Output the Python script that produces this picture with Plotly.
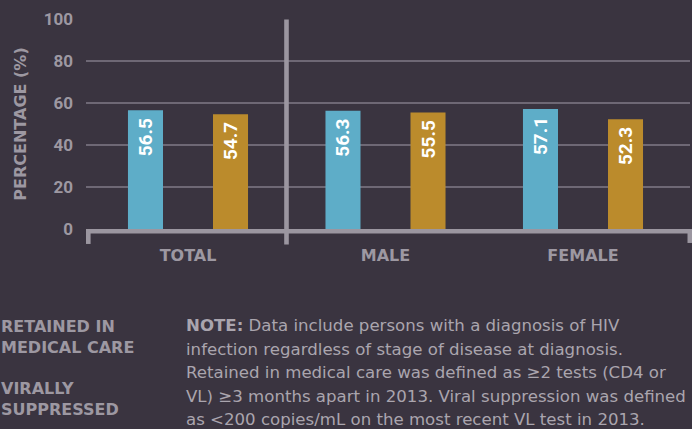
import plotly.graph_objects as go

categories = ["TOTAL", "MALE", "FEMALE"]
retained = [56.5, 56.3, 57.1]
suppressed = [54.7, 55.5, 52.3]
y_ticks = [0, 20, 40, 60, 80, 100]
legend_labels = ["RETAINED IN<br>MEDICAL CARE", "VIRALLY<br>SUPPRESSED"]
note_lines = [
    "<b>NOTE:</b> Data include persons with a diagnosis of HIV",
    "infection regardless of stage of disease at diagnosis.",
    "Retained in medical care was defined as \u22652 tests (CD4 or",
    "VL) \u22653 months apart in 2013. Viral suppression was defined",
    "as <200 copies/mL on the most recent VL test in 2013.",
]

W, H = 692, 429
BG = "#3a3440"
BLUE = "#5eadc8"
GOLD = "#bb8b2c"
GRID = "#6e6875"
AXIS = "#9b96a0"
LABEL = "#9d98a2"
NOTE = "#aaa5ae"
FONT = "Roboto"
BFONT = "DejaVu Sans"

L, R, T, B = 86, 2, 19, 199.5
PW, PH = W - L - R, H - T - B


def px(x):
    return (x - L) / PW


def py(y):
    return (H - B - y) / PH


xs = list(range(len(categories)))

fig = go.Figure()
for vals, name, col in [(retained, "Retained in medical care", BLUE),
                        (suppressed, "Virally suppressed", GOLD)]:
    fig.add_trace(go.Bar(
        x=xs, y=vals, name=name, marker_color=col, marker_line_width=0,
        texttemplate="%{y:.1f}\u00a0", textposition="inside", textangle=-90,
        insidetextanchor="end", constraintext="none",
        textfont=dict(family=FONT, size=19, color="white", weight="bold"),
    ))

shapes = []
shapes.append(dict(type="line", xref="paper", yref="paper",
                   x0=px(86), x1=px(692), y0=py(231.7), y1=py(231.7),
                   line=dict(color=AXIS, width=4.6)))
shapes.append(dict(type="line", xref="paper", yref="paper",
                   x0=px(88.3), x1=px(88.3), y0=py(229.5), y1=py(244.5),
                   line=dict(color=AXIS, width=4.6)))
shapes.append(dict(type="line", xref="paper", yref="paper",
                   x0=px(286.5), x1=px(286.5), y0=py(19.5), y1=py(245),
                   line=dict(color=AXIS, width=4.6)))
shapes.append(dict(type="line", xref="paper", yref="paper",
                   x0=px(689.8), x1=px(689.8), y0=py(229.5), y1=py(243.5),
                   line=dict(color=AXIS, width=4.6)))

annotations = []
leg_y = [337.5, 400.3]
for lab, yy in zip(legend_labels, leg_y):
    annotations.append(dict(
        text=lab, xref="paper", yref="paper", x=px(0), y=py(yy),
        xanchor="left", yanchor="middle", showarrow=False, align="left",
        borderpad=0,
        font=dict(family=BFONT, size=16, color=LABEL, weight="bold"),
    ))
note_y = [326, 349.8, 373.5, 397.3, 420.5]
for line, yy in zip(note_lines, note_y):
    annotations.append(dict(
        text=line, xref="paper", yref="paper", x=px(185), y=py(yy),
        xanchor="left", yanchor="middle", showarrow=False, align="left",
        borderpad=0,
        font=dict(family=BFONT, size=16.6, color=NOTE),
    ))

fig.update_layout(
    width=W, height=H,
    margin=dict(l=L, r=R, t=T, b=B, pad=0, autoexpand=False),
    paper_bgcolor=BG, plot_bgcolor=BG,
    barmode="group", bargap=0.139, bargroupgap=0.588,
    showlegend=False,
    shapes=shapes, annotations=annotations,
    xaxis=dict(
        range=[(86 - 188) / 197.5, (690 - 188) / 197.5],
        tickvals=xs, ticktext=categories, showgrid=False, zeroline=False,
        showline=False, ticks="", ticklabelstandoff=15, automargin=False,
        tickfont=dict(family=BFONT, size=16, color=LABEL, weight="bold"),
        fixedrange=True,
    ),
    yaxis=dict(
        range=[0, 100], tickvals=y_ticks, showgrid=True, gridcolor=GRID,
        gridwidth=1.6, zeroline=False, showline=False, ticks="",
        ticklabelstandoff=12, automargin=False,
        tickfont=dict(family=FONT, size=17, color=LABEL, weight="bold"),
        title=dict(text="PERCENTAGE (%)", standoff=13,
                   font=dict(family=BFONT, size=16, color=LABEL, weight="bold")),
        fixedrange=True,
    ),
)

fig.write_html(
    "out.html",
    config={"displayModeBar": False},
    post_script="document.body.style.margin='0';document.body.style.overflow='hidden';",
)
